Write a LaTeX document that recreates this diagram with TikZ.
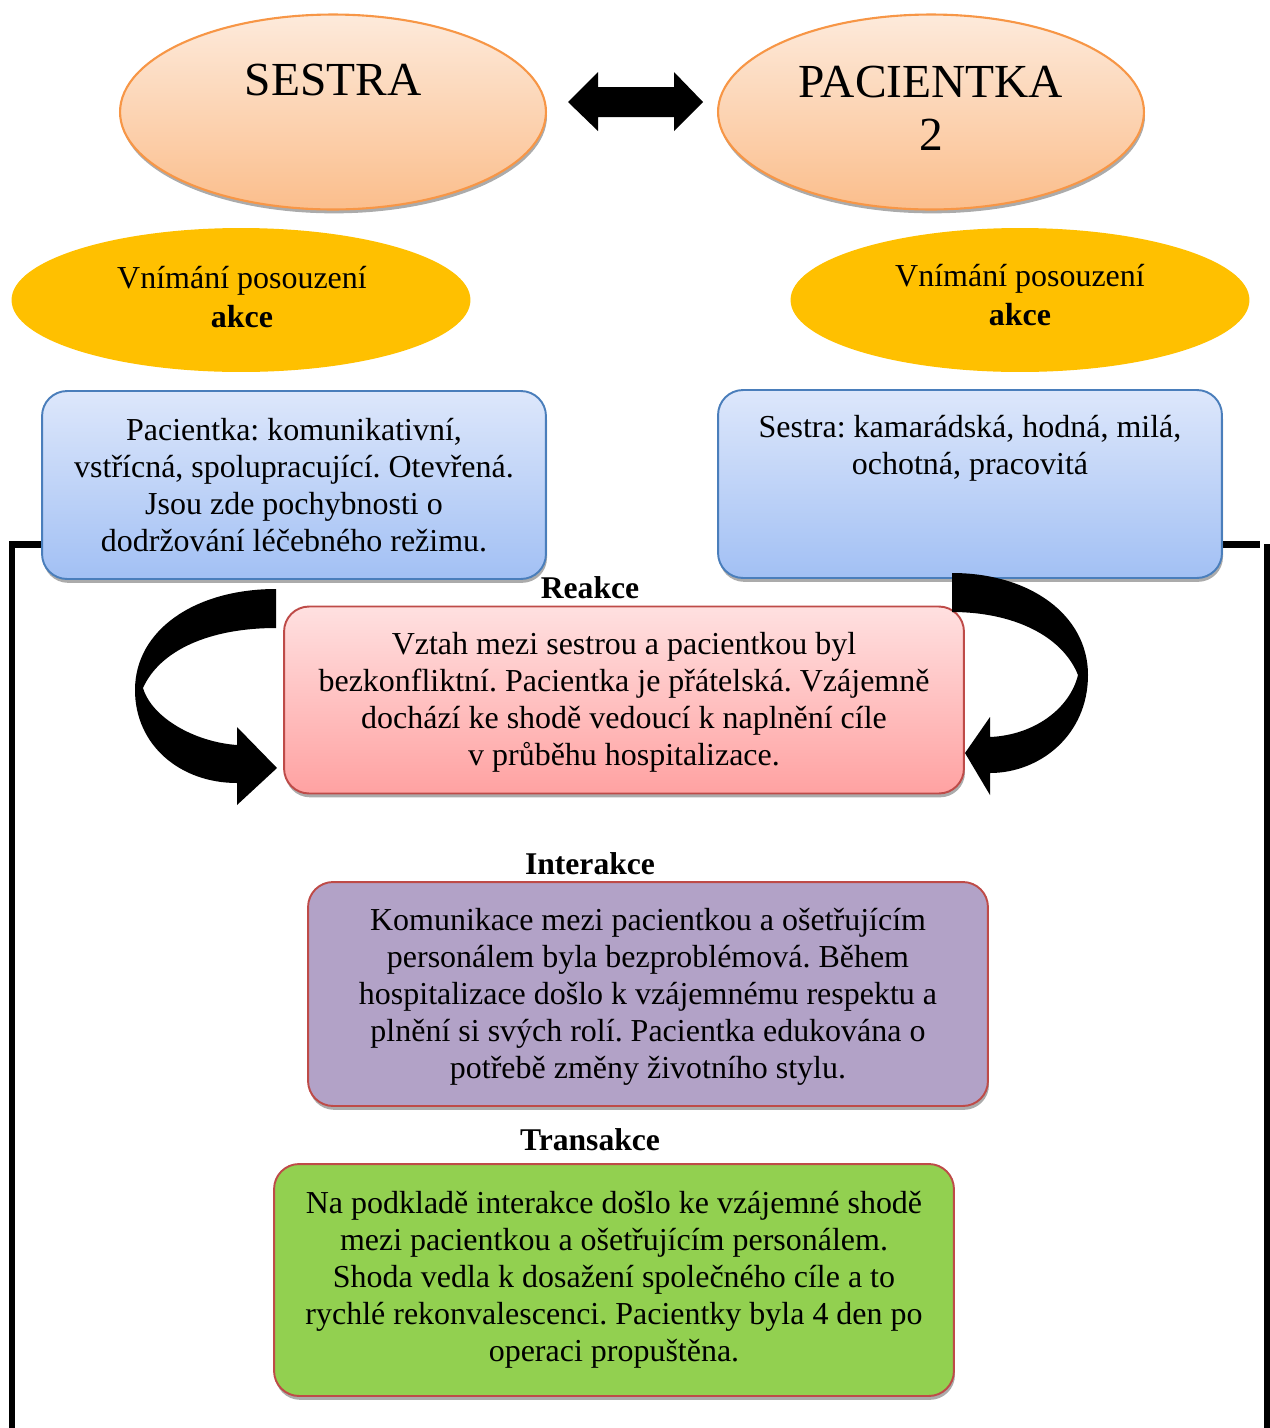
\documentclass[tikz,border=0pt]{standalone}
\usepackage{fontspec}
\setmainfont{Liberation Serif}
\usetikzlibrary{shapes.geometric,shadows,positioning}
\frenchspacing

\definecolor{peachtop}{HTML}{FDEADB}
\definecolor{peachbot}{HTML}{FBBE8C}
\definecolor{peachline}{HTML}{F79646}
\definecolor{akceyel}{HTML}{FFC000}
\definecolor{bluetop}{HTML}{DDE7FB}
\definecolor{bluebot}{HTML}{A2C0F4}
\definecolor{blueline}{HTML}{4A7EBB}
\definecolor{pinktop}{HTML}{FFE0E0}
\definecolor{pinkbot}{HTML}{FFA2A2}
\definecolor{redline}{HTML}{BE4B48}
\definecolor{purplefill}{HTML}{B2A2C7}
\definecolor{greenfill}{HTML}{92D050}

\begin{document}
\begin{tikzpicture}[x=0.02cm,y=-0.02cm,
  txt/.style={font=\fontsize{18.2}{21}\selectfont,align=center,inner sep=0pt},
  head/.style={font=\fontsize{18}{21}\selectfont\bfseries,inner sep=0pt},
  big/.style={font=\fontsize{27}{30}\selectfont,align=center,inner sep=0pt},
  shd/.style={drop shadow={shadow xshift=0.6pt,shadow yshift=-2.2pt,fill=black!55,opacity=0.6}},
  peach/.style={ellipse,draw=peachline,line width=1.2pt,top color=peachtop,bottom color=peachbot,
    minimum width=8.52cm,minimum height=3.9cm,inner sep=0pt,shd},
  akce/.style={ellipse,fill=akceyel,minimum width=9.18cm,minimum height=2.88cm,inner sep=0pt},
  box/.style={rounded corners=0.5cm,line width=1.1pt,inner sep=0pt,txt,shd},
  bluebox/.style={box,draw=blueline,top color=bluetop,bottom color=bluebot,minimum width=10.08cm,minimum height=3.76cm},
  frame/.style={line width=0.14cm},
  bigarrow/.style={fill=black}]
\useasboundingbox (0,0) rectangle (1270,1428);

\draw[frame] (12,1432) -- (12,544) -- (46,544);
\draw[frame] (1218,544) -- (1260,544);
\draw[frame] (1267,544) -- (1267,1432);

\node[peach] (sestra) at (333,112) {};
\node[big] (sestratxt) at (333,80) {SESTRA};
\node[peach] (pacientka) at (931,112) {};
\node[big] (pacientkatxt) at (931,108) {PACIENTKA\\2};

\fill[bigarrow] (568,102) -- (598,72) -- (598,87) -- (674,87) -- (674,72) -- (703,102)
  -- (674,131) -- (674,117) -- (598,117) -- (598,131) -- cycle;

\node[akce] (akce1) at (241,300) {};
\node[txt] (akce1txt) at (242,297) {Vnímání posouzení\\[1pt]\textbf{akce}};
\node[akce] (akce2) at (1020,300) {};
\node[txt] (akce2txt) at (1020,295) {Vnímání posouzení\\[1pt]\textbf{akce}};

\node[bluebox] (vnimani1) at (294,485) {Pacientka: komunikativní,\\ vstřícná, spolupracující. Otevřená.\\ Jsou zde pochybnosti o\\ dodržování léčebného režimu.};
\node[bluebox] (vnimani2) at (970,484) {};
\node[txt] (vnimani2txt) at (970,448) {Sestra: kamarádská, hodná, milá,\\ ochotná, pracovitá};

\node[head] (reakce) at (590,588) {Reakce};
\node[box,draw=redline,top color=pinktop,bottom color=pinkbot,minimum width=13.6cm,minimum height=3.74cm]
  (vztah) at (624,700) {};
\node[txt] (vztahtxt) at (624,702) {Vztah mezi sestrou a pacientkou byl\\ bezkonfliktní. Pacientka je přátelská. Vzájemně\\ dochází ke shodě vedoucí k naplnění cíle\\ v průběhu hospitalizace.};

\node[head] (interakce) at (590,864) {Interakce};
\node[box,draw=redline,fill=purplefill,minimum width=13.6cm,minimum height=4.48cm]
  (komunikace) at (648,994) {};
\node[txt] (komunikacetxt) at (648,997) {Komunikace mezi pacientkou a ošetřujícím\\ personálem byla bezproblémová. Během\\ hospitalizace došlo k vzájemnému respektu a\\ plnění si svých rolí. Pacientka edukována o\\ potřebě změny životního stylu.};

\node[head] (transakce) at (590,1140) {Transakce};
\node[box,draw=redline,fill=greenfill,minimum width=13.6cm,minimum height=4.64cm]
  (shoda) at (614,1280) {Na podkladě interakce došlo ke vzájemné shodě\\ mezi pacientkou a ošetřujícím personálem.\\ Shoda vedla k dosažení společného cíle a to\\ rychlé rekonvalescenci. Pacientky byla 4 den po\\ operaci propuštěna.};

\fill[bigarrow] (276,589) .. controls (195,589) and (135,630) .. (135,690)
  .. controls (135,745) and (180,783) .. (237,783) -- (237,805) -- (277,768) -- (237,727) -- (237,745)
  .. controls (195,742) and (152,718) .. (143,688)
  .. controls (160,650) and (210,628) .. (276,628) -- cycle;
\fill[bigarrow] (952,573) .. controls (1030,573) and (1088,615) .. (1088,675)
  .. controls (1088,735) and (1040,773) .. (990,773) -- (990,795) -- (965,753) -- (990,717) -- (990,737)
  .. controls (1035,735) and (1070,708) .. (1078,675)
  .. controls (1062,635) and (1012,612) .. (952,612) -- cycle;
\end{tikzpicture}
\end{document}
